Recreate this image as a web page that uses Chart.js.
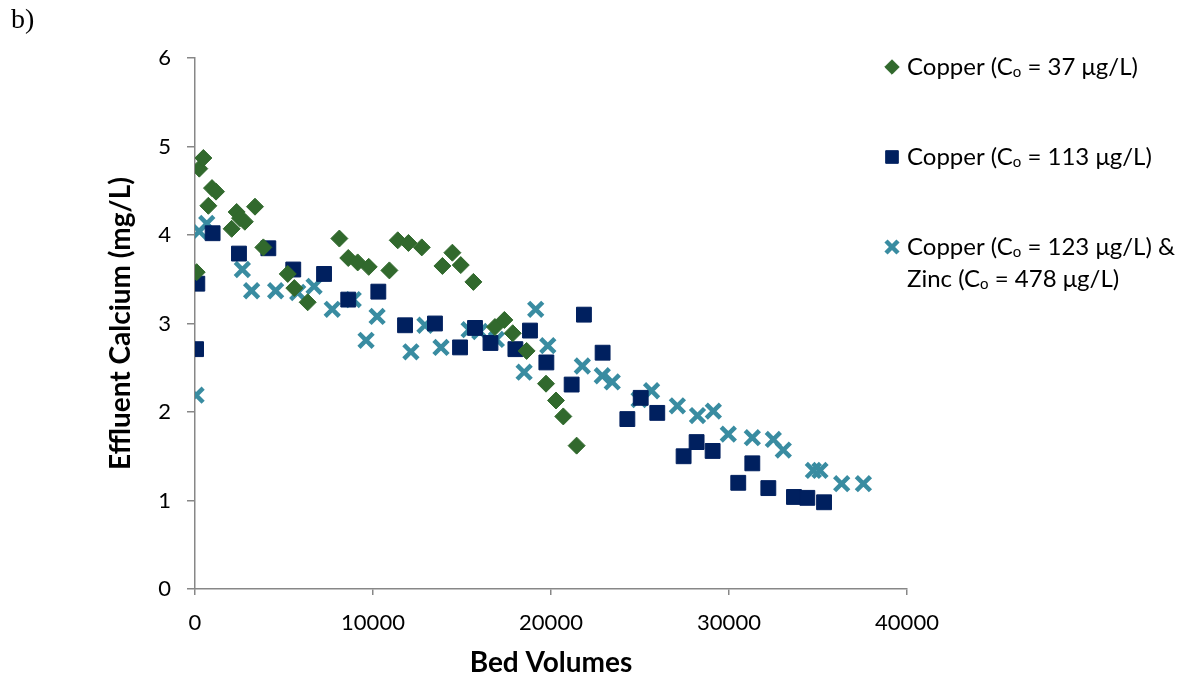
<!DOCTYPE html>
<html>
<head>
<meta charset="utf-8">
<script src="https://cdn.jsdelivr.net/npm/chart.js@4.4.1/dist/chart.umd.min.js"></script>
<style>
  html, body { margin: 0; padding: 0; background: #fff; }
  #wrap { position: relative; width: 1180px; height: 680px; }
  #panel { position: absolute; left: 11px; top: 3px; font: 28px "Liberation Serif", serif; color: #000; }
</style>
</head>
<body>
<div id="wrap">
  <canvas id="chart" width="1180" height="680"></canvas>
  <div id="panel">b)</div>
</div>
<script>
// Bed volumes (x) and effluent calcium in mg/L (y)
const cu37X = [95, 240, 470, 750, 955, 1180, 2060, 2340, 2530, 2800, 3370, 3840, 5210, 5580, 6330,
  8110, 8610, 9140, 9760, 10920, 11390, 11990, 12740, 13900, 14460, 14930, 15640, 16850, 17380,
  17850, 18630, 19720, 20280, 20690, 21440];
const cu37Y = [3.58, 4.75, 4.87, 4.33, 4.53, 4.49, 4.07, 4.26, 4.19, 4.15, 4.32, 3.86, 3.56, 3.40, 3.24,
  3.96, 3.74, 3.69, 3.64, 3.60, 3.94, 3.91, 3.86, 3.65, 3.80, 3.66, 3.47, 2.96, 3.04,
  2.89, 2.69, 2.32, 2.13, 1.95, 1.62];

const cu113X = [60, 130, 990, 2470, 4120, 5520, 7250, 8610, 10300, 11800, 13480, 14890, 15730, 16600,
  18000, 18820, 19740, 21160, 21850, 22900, 24290, 25040, 25970, 27450, 28180, 29080, 30520, 31310,
  32210, 33650, 34400, 35340];
const cu113Y = [2.71, 3.45, 4.02, 3.79, 3.85, 3.61, 3.56, 3.27, 3.36, 2.98, 3.00, 2.73, 2.95, 2.78,
  2.71, 2.92, 2.56, 2.31, 3.10, 2.67, 1.92, 2.16, 1.99, 1.50, 1.66, 1.56, 1.20, 1.42,
  1.14, 1.04, 1.03, 0.98];

const cuZnX = [60, 240, 660, 2660, 3180, 4530, 5770, 6690, 7710, 8890, 9610, 10230, 12130, 12920, 13820,
  15400, 16000, 16930, 18490, 19140, 19820, 21760, 22880, 23440, 24950, 25650, 27100, 28230, 29120,
  29960, 31310, 32490, 33050, 34740, 35110, 36330, 37550];
const cuZnY = [2.19, 4.04, 4.13, 3.61, 3.37, 3.37, 3.35, 3.42, 3.16, 3.27, 2.81, 3.08, 2.68, 2.98, 2.73,
  2.93, 2.91, 2.82, 2.45, 3.16, 2.75, 2.52, 2.41, 2.34, 2.14, 2.24, 2.07, 1.96, 2.01,
  1.75, 1.71, 1.69, 1.57, 1.34, 1.34, 1.19, 1.19];

const xTicks = [0, 10000, 20000, 30000, 40000];
const yTicks = [0, 1, 2, 3, 4, 5, 6];

// legend text, split so the "o" of Co can be set small
const legendLines = [
  [["Copper (C", 0], ["o", 1], [" = 37 \u03bcg/L)", 0]],
  [["Copper (C", 0], ["o", 1], [" = 113 \u03bcg/L)", 0]],
  [["Copper (C", 0], ["o", 1], [" = 123 \u03bcg/L) &", 0]],
  [["Zinc (C", 0], ["o", 1], [" = 478 \u03bcg/L)", 0]]
];

const GREEN = "#31692d";
const NAVY = "#00205f";
const TEAL = "#398ca1";
const AXIS = "#878787";
const FONT = "Lato, 'Open Sans', sans-serif";

function pts(xs, ys) {
  return xs.map((x, i) => ({ x: x, y: ys[i] }));
}

const legendPlugin = {
  id: "sideLegend",
  afterDraw(chart) {
    const ctx = chart.ctx;
    const sets = chart.data.datasets;
    const rows = [67, 157, 247, 279];
    const textX = 907;
    ctx.save();
    [0, 1, 2].forEach(i => {
      const ds = sets[i];
      const opts = {
        pointStyle: ds.pointStyle,
        radius: ds.pointRadius * 0.85,
        borderWidth: ds.pointBorderWidth
      };
      ctx.fillStyle = ds.pointBackgroundColor;
      ctx.strokeStyle = ds.pointBorderColor;
      ctx.lineWidth = ds.pointBorderWidth;
      Chart.helpers.drawPoint(ctx, opts, 892, rows[i]);
    });
    ctx.fillStyle = "#000";
    ctx.textBaseline = "alphabetic";
    legendLines.forEach((line, i) => {
      let x = textX;
      const base = rows[i] + 8;
      line.forEach(([txt, small]) => {
        ctx.font = (small ? "15px " : "24px ") + FONT;
        ctx.fillText(txt, x, base + (small ? 2 : 0));
        x += ctx.measureText(txt).width;
      });
    });
    ctx.restore();
  }
};

new Chart(document.getElementById("chart").getContext("2d"), {
  type: "scatter",
  data: {
    datasets: [
      {
        label: "Copper (Co = 37 \u03bcg/L)",
        data: pts(cu37X, cu37Y),
        pointStyle: "rectRot",
        pointRadius: 8.5,
        pointBorderWidth: 1,
        pointBackgroundColor: GREEN,
        pointBorderColor: GREEN
      },
      {
        label: "Copper (Co = 113 \u03bcg/L)",
        data: pts(cu113X, cu113Y),
        pointStyle: "rect",
        pointRadius: 10.5,
        pointBorderWidth: 1,
        pointBackgroundColor: NAVY,
        pointBorderColor: NAVY
      },
      {
        label: "Copper (Co = 123 \u03bcg/L) & Zinc (Co = 478 \u03bcg/L)",
        data: pts(cuZnX, cuZnY),
        pointStyle: "crossRot",
        pointRadius: 10,
        pointBorderWidth: 4.5,
        pointBackgroundColor: TEAL,
        pointBorderColor: TEAL
      }
    ]
  },
  options: {
    responsive: false,
    animation: false,
    layout: { padding: { left: 104, right: 273, top: 58, bottom: 0 } },
    plugins: {
      legend: { display: false },
      tooltip: { enabled: false }
    },
    scales: {
      x: {
        type: "linear",
        min: 0,
        max: 40000,
        afterFit: s => { s.height = 91; },
        afterBuildTicks: s => { s.ticks = xTicks.map(v => ({ value: v })); },
        ticks: {
          color: "#000",
          font: { family: FONT, size: 22 },
          padding: 15,
          maxRotation: 0,
          callback: v => String(v)
        },
        grid: { display: true, drawOnChartArea: false, drawTicks: true, tickLength: 6, color: AXIS, lineWidth: 1.5 },
        border: { display: true, color: AXIS, width: 1.5 },
        title: {
          display: true,
          text: "Bed Volumes",
          color: "#000",
          font: { family: FONT, size: 28, weight: "bold" },
          padding: { top: 0, bottom: 0 }
        }
      },
      y: {
        type: "linear",
        min: 0,
        max: 6,
        afterFit: s => { s.width = 91; },
        afterBuildTicks: s => { s.ticks = yTicks.map(v => ({ value: v })); },
        ticks: {
          color: "#000",
          font: { family: FONT, size: 22 },
          padding: 16,
          callback: v => String(v)
        },
        grid: { display: true, drawOnChartArea: false, drawTicks: true, tickLength: 8, color: AXIS, lineWidth: 1.5 },
        border: { display: true, color: AXIS, width: 1.5 },
        title: {
          display: true,
          text: "Effluent Calcium (mg/L)",
          color: "#000",
          font: { family: FONT, size: 28, weight: "bold" },
          padding: { top: 0, bottom: 0 }
        }
      }
    }
  },
  plugins: [legendPlugin]
});
</script>
</body>
</html>
